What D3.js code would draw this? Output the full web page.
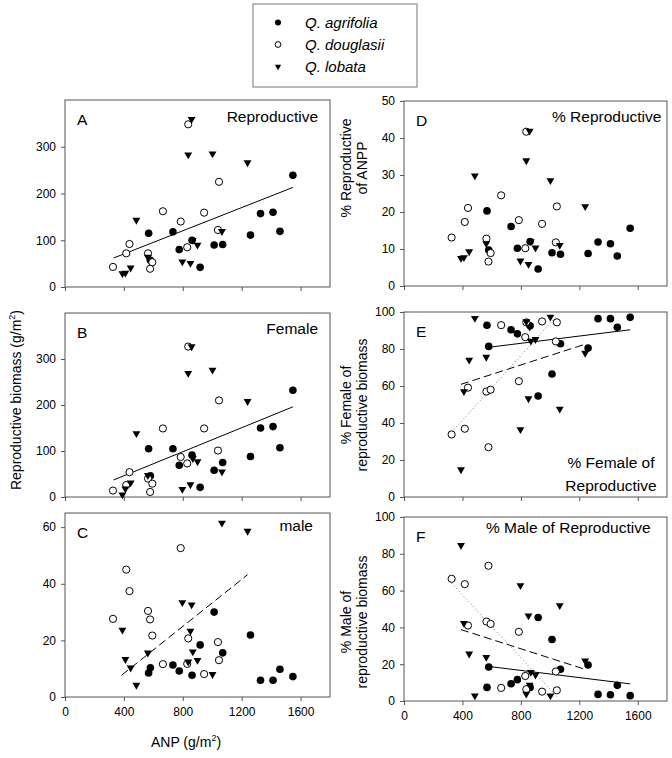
<!DOCTYPE html>
<html><head><meta charset="utf-8">
<script src="https://cdn.jsdelivr.net/npm/d3@7"></script>
<style>body{margin:0;background:#fff}svg{display:block;font-family:Arial,"Liberation Sans",sans-serif}</style>
</head><body><svg id="c" width="672" height="758"></svg>
<script>
// ---------- data ----------
const xTicks = [0, 400, 800, 1200, 1600];
const species = ["Q. agrifolia", "Q. douglasii", "Q. lobata"];

const agrX = [568, 580, 733, 776, 863, 918, 1013, 1071, 1260, 1328, 1413, 1460, 1548];
const agrRep = [115, 57, 118, 80, 100, 42, 90, 91, 111, 157, 160, 119, 239];
const agrFem = [105, 46, 105, 69, 91, 21, 58, 75, 88, 150, 153, 107, 232];
const agrMale = [8.5, 10.3, 11.3, 9.2, 7.7, 18.4, 30.0, 15.6, 21.9, 5.9, 5.9, 9.8, 7.2];
const agrPctRep = [20.3, 9.7, 16.1, 10.2, 12.0, 4.6, 9.0, 8.6, 8.8, 11.9, 11.4, 8.1, 15.6];
const agrPctFem = [92.8, 81.4, 90.4, 88.2, 92.6, 54.6, 66.5, 82.8, 80.5, 96.4, 96.4, 91.7, 97.1];
const agrPctMale = [7.4, 18.5, 9.4, 11.6, 7.4, 45.4, 33.4, 17.2, 19.6, 3.6, 3.4, 8.5, 2.9];

const douX = [326, 416, 438, 564, 578, 593, 665, 786, 830, 837, 945, 1039, 1046];
const douRep = [43, 72, 92, 72, 39, 53, 162, 140, 85, 348, 159, 122, 225];
const douFem = [14, 26, 54, 40, 11, 29, 149, 87, 73, 327, 149, 101, 210];
const douMale = [27.6, 45.0, 37.4, 30.4, 27.4, 21.7, 11.6, 52.6, 11.7, 20.7, 8.1, 19.4, 13.0];
const douPctRep = [13.1, 17.3, 21.1, 12.8, 6.6, 8.9, 24.5, 17.8, 10.2, 41.7, 16.8, 11.8, 21.5];
const douPctFem = [33.8, 36.9, 59.1, 57.0, 26.9, 58.0, 92.9, 62.6, 86.4, 94.4, 94.9, 84.1, 94.4];
const douPctMale = [66.4, 63.5, 41.0, 43.2, 73.5, 41.9, 7.1, 37.6, 13.6, 6.4, 5.1, 16.0, 5.8];

const lobX = [390, 410, 446, 485, 563, 797, 837, 852, 860, 868, 900, 1002, 1066, 1240];
const lobRep = [29, 30, 41, 143, 64, 54, 283, 51, 359, 100, 90, 285, 119, 266];
const lobFem = [5, 18, 31, 138, 47, 17, 269, 27, 327, 84, 77, 276, 55, 208];
const lobMale = [23.7, 13.3, 10.3, 4.2, 15.6, 33.4, 12.4, 23.3, 32.6, 16.0, 13.0, 8.0, 61.5, 58.6];
const lobPctRep = [7.5, 7.7, 9.3, 29.8, 11.5, 6.8, 33.9, 5.9, 41.9, 12.0, 10.3, 28.5, 11.0, 21.5];
const lobPctFem = [14.8, 57.0, 74.1, 96.6, 75.6, 36.5, 94.8, 53.2, 91.9, 84.3, 85.2, 97.3, 47.6, 77.8];
const lobPctMale = [84.6, 42.3, 25.6, 2.9, 23.8, 62.8, 3.8, 46.3, 8.7, 15.6, 14.2, 2.9, 51.9, 21.8];

// fitted lines (end points): [[x1,y1],[x2,y2]]
const fitRepAll = [[330, 62], [1548, 213]];
const fitFemAll = [[330, 37], [1548, 196]];
const fitMaleLob = [[385, 7.7], [1240, 43.2]];
const fitPctFemAgr = [[568, 80.8], [1548, 90.4]];
const fitPctFemLob = [[390, 60.9], [1240, 82.6]];
const fitPctFemDou = [[326, 35], [1046, 98]];
const fitPctMaleAgr = [[568, 18.9], [1548, 9.3]];
const fitPctMaleLob = [[390, 38.8], [1240, 17.2]];
const fitPctMaleDou = [[326, 64], [1046, 2.5]];

// ---------- drawing ----------
const svg = d3.select("#c");
const ink = "#000", frame = "#555";
const colRange = [[65, 330], [404, 667]];

function zip(xs, ys) { return xs.map((v, i) => ({x: v, y: ys[i]})); }

const panels = [
  {label: "A", col: 0, yDomain: [0, 400], yRange: [287, 100], yTicks: [0, 100, 200, 300], showX: false,
   sets: [agrRep, douRep, lobRep],
   fits: [{d: fitRepAll, style: "solid"}],
   title: {lines: ["Reproductive"], x: 318, y: 122, anchor: "end"}},
  {label: "B", col: 0, yDomain: [0, 400], yRange: [497, 313], yTicks: [0, 100, 200, 300], showX: false,
   sets: [agrFem, douFem, lobFem],
   fits: [{d: fitFemAll, style: "solid"}],
   title: {lines: ["Female"], x: 318, y: 334, anchor: "end"}},
  {label: "C", col: 0, yDomain: [0, 65], yRange: [697, 513], yTicks: [0, 20, 40, 60], showX: true,
   sets: [agrMale, douMale, lobMale],
   fits: [{d: fitMaleLob, style: "dashed"}],
   title: {lines: ["male"], x: 313, y: 531, anchor: "end"}},
  {label: "D", col: 1, yDomain: [0, 50], yRange: [286, 101], yTicks: [0, 10, 20, 30, 40, 50], showX: false,
   sets: [agrPctRep, douPctRep, lobPctRep],
   fits: [],
   title: {lines: ["% Reproductive"], x: 552, y: 122, anchor: "start"}},
  {label: "E", col: 1, yDomain: [0, 100], yRange: [497, 312], yTicks: [0, 20, 40, 60, 80, 100], showX: false,
   sets: [agrPctFem, douPctFem, lobPctFem],
   fits: [{d: fitPctFemAgr, style: "solid"}, {d: fitPctFemLob, style: "dashed"}, {d: fitPctFemDou, style: "dotted"}],
   title: {lines: ["% Female of", "Reproductive"], x: 611, y: 468, anchor: "middle", dy: 23}},
  {label: "F", col: 1, yDomain: [0, 100], yRange: [701, 517], yTicks: [0, 20, 40, 60, 80, 100], showX: true,
   sets: [agrPctMale, douPctMale, lobPctMale],
   fits: [{d: fitPctMaleAgr, style: "solid"}, {d: fitPctMaleLob, style: "dashed"}, {d: fitPctMaleDou, style: "dotted"}],
   title: {lines: ["% Male of Reproductive"], x: 486, y: 533, anchor: "start"}}
];
const xsBySpecies = [agrX, douX, lobX];

function drawMarker(g, kind, cx, cy, scale) {
  const s = scale || 1;
  if (kind === 0) {
    g.append("circle").attr("cx", cx).attr("cy", cy).attr("r", 3.8 * s).attr("fill", ink);
  } else if (kind === 1) {
    g.append("circle").attr("cx", cx).attr("cy", cy).attr("r", 3.6 * s)
      .attr("fill", "#fff").attr("stroke", ink).attr("stroke-width", 1);
  } else {
    g.append("path").attr("d", d3.symbol().type(d3.symbolTriangle).size(27 * s * s)())
      .attr("transform", `translate(${cx},${cy}) rotate(180)`).attr("fill", ink);
  }
}

panels.forEach(p => {
  const x = d3.scaleLinear().domain([0, 1800]).range(colRange[p.col]);
  const y = d3.scaleLinear().domain(p.yDomain).range(p.yRange);
  const g = svg.append("g");
  const x0 = colRange[p.col][0], x1 = colRange[p.col][1];

  // y axis
  const ya = g.append("g").attr("transform", `translate(${x0},0)`)
    .call(d3.axisLeft(y).tickValues(p.yTicks).tickSize(4).tickPadding(5).tickFormat(d3.format("d")));
  ya.select(".domain").remove();
  ya.selectAll("line").attr("stroke", frame);
  ya.selectAll("text").attr("font-size", 12).attr("fill", ink).attr("font-family", "Arial, Liberation Sans, sans-serif");

  // x axis
  const xa = g.append("g").attr("transform", `translate(0,${p.yRange[0]})`)
    .call(d3.axisBottom(x).tickValues(xTicks).tickSize(4).tickPadding(6)
      .tickFormat(p.showX ? d3.format("d") : () => ""));
  xa.select(".domain").remove();
  xa.selectAll("line").attr("stroke", frame);
  xa.selectAll("text").attr("font-size", 12).attr("fill", ink).attr("font-family", "Arial, Liberation Sans, sans-serif");

  // frame
  g.append("rect").attr("x", x0).attr("y", p.yRange[1]).attr("width", x1 - x0)
    .attr("height", p.yRange[0] - p.yRange[1]).attr("fill", "none").attr("stroke", frame).attr("stroke-width", 1);

  // fitted lines
  const line = d3.line().x(d => x(d[0])).y(d => y(d[1]));
  p.fits.forEach(f => {
    const path = g.append("path").attr("d", line(f.d)).attr("fill", "none");
    if (f.style === "solid") path.attr("stroke", ink).attr("stroke-width", 1);
    else if (f.style === "dashed") path.attr("stroke", ink).attr("stroke-width", 1).attr("stroke-dasharray", "8,4");
    else path.attr("stroke", "#777").attr("stroke-width", 1).attr("stroke-dasharray", "1,2.5");
  });

  // points
  p.sets.forEach((vals, k) => {
    zip(xsBySpecies[k], vals).forEach(d => drawMarker(g, k, x(d.x), y(d.y)));
  });

  // panel letter
  g.append("text").attr("x", x0 + 12).attr("y", p.yRange[1] + 25).attr("font-size", 15.5).attr("fill", ink).text(p.label);
  // title
  p.title.lines.forEach((t, i) => {
    g.append("text").attr("x", p.title.x).attr("y", p.title.y + i * (p.title.dy || 0))
      .attr("text-anchor", p.title.anchor).attr("font-size", 15.5).attr("fill", ink).text(t);
  });
});

// main y label
const yl = svg.append("text").attr("transform", "translate(21,400) rotate(-90)")
  .attr("text-anchor", "middle").attr("font-size", 14).attr("fill", ink);
yl.append("tspan").text("Reproductive biomass (g/m");
yl.append("tspan").attr("font-size", 9).attr("dy", -6).text("2");
yl.append("tspan").attr("dy", 6).text(")");

// x label
const xl = svg.append("text").attr("x", 186).attr("y", 747).attr("text-anchor", "middle")
  .attr("font-size", 14).attr("fill", ink);
xl.append("tspan").text("ANP (g/m");
xl.append("tspan").attr("font-size", 9).attr("dy", -6).text("2");
xl.append("tspan").attr("dy", 6).text(")");

// right column y labels
const rightLabels = [
  {lines: ["% Reproductive", "of ANPP"], cy: 168},
  {lines: ["% Female of", "reproductive biomass"], cy: 405},
  {lines: ["% Male of", "reproductive biomass"], cy: 622}
];
rightLabels.forEach(r => {
  r.lines.forEach((t, i) => {
    svg.append("text").attr("transform", `translate(${351 + i * 16},${r.cy}) rotate(-90)`)
      .attr("text-anchor", "middle").attr("font-size", 14).attr("fill", ink).text(t);
  });
});

// legend
const lg = svg.append("g");
lg.append("rect").attr("x", 253).attr("y", 4).attr("width", 164).attr("height", 83)
  .attr("fill", "#fff").attr("stroke", "#777").attr("stroke-width", 1);
species.forEach((s, i) => {
  const cy = 22.5 + i * 22;
  drawMarker(lg, i, 278, cy, 0.8);
  lg.append("text").attr("x", 305).attr("y", cy + 5).attr("font-size", 15).attr("font-style", "italic")
    .attr("fill", ink).text(s);
});
</script></body></html>
